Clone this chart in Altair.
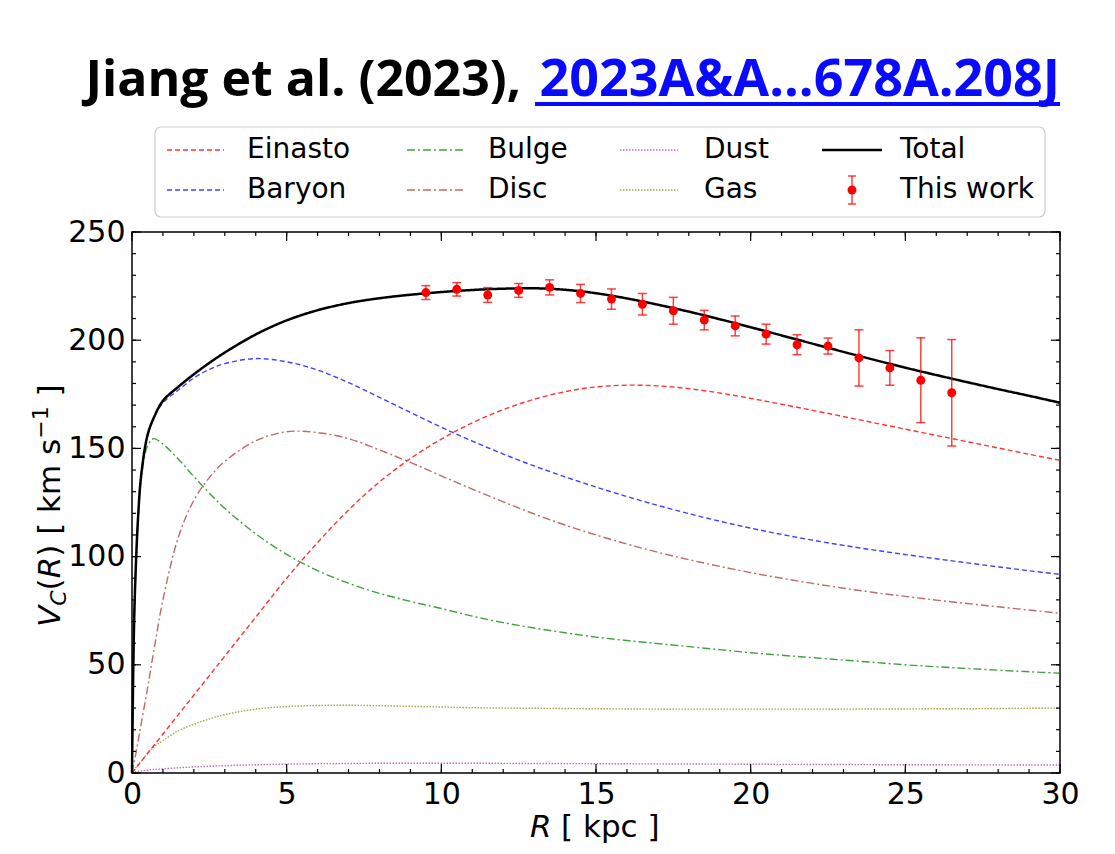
import altair as alt
import pandas as pd

# ---------------- data ----------------
R_GRID = [0, 0.05, 0.1, 0.2, 0.3, 0.5, 0.7, 1, 1.5, 2, 2.5, 3, 4, 5, 6, 7, 8, 9, 10,
          11, 12, 13, 14, 15, 16, 17, 18, 19, 20, 21, 22, 23, 24, 25, 26, 27, 28, 29, 30]

EINASTO = [0, 0.9, 1.8, 3.6, 5.4, 9, 12.6, 18, 27, 36, 45, 54, 72, 90, 106.5, 121.5, 134.5,
           145.3, 154.3, 161.8, 167.9, 172.7, 176.2, 178.4, 179.2, 178.9, 177.6, 175.6, 173.1,
           170.4, 167.6, 164.7, 161.8, 158.9, 156, 153.1, 150.2, 147.3, 144.5]
BARYON = [0, 56, 86, 119, 138, 156, 164, 171, 177, 182.5, 186.5, 189.2, 191.5, 190, 186.2, 180.4,
          173.6, 166.6, 159.8, 153.4, 147.4, 141.9, 136.85, 132.15, 127.75, 123.65, 119.85,
          116.35, 113.15, 110.25, 107.6, 105.2, 103, 100.95, 99.0, 97.1, 95.25, 93.45, 91.8]
BULGE = [0, 55, 85, 118, 136, 151, 154.5, 152, 145, 137, 129.3, 122.3, 110.5, 101, 93.5, 87.7,
         83, 79.3, 76, 72.5, 69.5, 67, 64.8, 62.8, 61.2, 59.8, 58.4, 57, 55.6, 54.4, 53.3, 52.2,
         51.1, 50, 49.1, 48.3, 47.5, 46.8, 46.1]
DISC = [0, 3.5, 7, 15, 23, 39, 56, 80, 109, 126, 136.5, 144, 153.5, 157.7, 157.3, 154.5, 149.3,
        143.5, 137.3, 131.2, 125.3, 119.7, 114.6, 110, 105.8, 102, 98.6, 95.5, 92.6, 90, 87.6,
        85.4, 83.4, 81.6, 79.9, 78.3, 76.8, 75.3, 73.8]
DUST = [0, 0.3, 0.5, 0.8, 1, 1.3, 1.6, 1.9, 2.4, 2.8, 3.1, 3.4, 3.8, 4.1, 4.3, 4.4, 4.5, 4.5,
        4.5, 4.5, 4.45, 4.4, 4.35, 4.3, 4.25, 4.2, 4.15, 4.1, 4.05, 4.0, 3.95, 3.9, 3.85, 3.8,
        3.8, 3.75, 3.75, 3.7, 3.7]
GAS = [0, 1, 2, 4, 5.5, 9, 12, 15, 19.5, 22.5, 25, 27, 29.5, 30.7, 31.2, 31.3, 31.1, 30.8,
       30.5, 30.2, 30, 29.9, 29.8, 29.7, 29.6, 29.5, 29.5, 29.5, 29.5, 29.5, 29.5, 29.5, 29.6,
       29.6, 29.7, 29.7, 29.8, 29.9, 30]
TOTAL = [0, 56, 86, 119, 138, 156, 164, 172, 178.5, 184.25, 189.5, 194.3, 202.65, 209.15,
         213.85, 217.15, 219.4, 221, 222.25, 223.2, 223.8, 224, 223.3, 221.7, 219.3, 216.4,
         213.2, 209.7, 206, 202.2, 198.4, 194.6, 190.9, 187.3, 183.9, 180.6, 177.4, 174.3, 171.1]

R_OBS = [9.5, 10.5, 11.5, 12.5, 13.5, 14.5, 15.5, 16.5, 17.5, 18.5, 19.5, 20.5, 21.5, 22.5,
         23.5, 24.5, 25.5, 26.5]
V_OBS = [222.0, 223.5, 220.9, 223.0, 224.4, 221.6, 219.0, 216.6, 213.6, 209.3, 206.6, 202.8,
         197.9, 197.3, 191.8, 187.2, 181.5, 175.7]
E_OBS = [3.2, 3.1, 3.4, 3.2, 3.5, 4.2, 4.7, 5.0, 6.2, 4.5, 4.6, 4.6, 4.6, 3.7, 13.0, 8.0,
         19.6, 24.6]

X_MAJOR = [0, 5, 10, 15, 20, 25, 30]
X_MINOR = list(range(0, 31))
Y_MAJOR = [0, 50, 100, 150, 200, 250]
Y_MINOR = list(range(0, 251, 10))

SERIES = ["Einasto", "Baryon", "Bulge", "Disc", "Dust", "Gas", "Total"]
SERIES_VALUES = [EINASTO, BARYON, BULGE, DISC, DUST, GAS, TOTAL]

# ---------------- styles / layout ----------------
STYLE = {
    "Einasto": dict(color="#ff0000", dash=[5, 3], width=1.4, opacity=0.8),
    "Baryon": dict(color="#0000ff", dash=[5, 3], width=1.4, opacity=0.75),
    "Bulge": dict(color="#008000", dash=[8, 3, 2, 3], width=1.4, opacity=0.75),
    "Disc": dict(color="#a52a2a", dash=[8, 3, 2, 3], width=1.4, opacity=0.7),
    "Dust": dict(color="#a020a0", dash=[1.5, 1.5], width=1.4, opacity=0.65),
    "Gas": dict(color="#808000", dash=[1.5, 1.5], width=1.4, opacity=0.7),
    "Total": dict(color="#000000", dash=[1, 0], width=2.5, opacity=1.0),
}
W, H = 928, 541
FONT = "DejaVu Sans"

# legend layout in plot-area pixels: (line x0, line x1, text x) per column, row y
COLS = [(35, 92, 115), (275, 332, 356), (488, 546, 572), (690, 750, 768)]
ROWS = [-82, -42]
LEGEND_ORDER = [["Einasto", "Baryon"], ["Bulge", "Disc"], ["Dust", "Gas"], ["Total", "This work"]]

xs = alt.Scale(domain=[0, 30], nice=False, zero=False)
ys = alt.Scale(domain=[0, 250], nice=False, zero=False)
AX = alt.Axis(values=X_MAJOR, labelFontSize=30, labelFont=FONT, labelColor="black",
              ticks=False, tickSize=0, domain=False, grid=False, labelPadding=6,
              labelFlush=False, labelOverlap=False, title=None, format="d")
AY = alt.Axis(values=Y_MAJOR, labelFontSize=30, labelFont=FONT, labelColor="black",
              ticks=False, tickSize=0, domain=False, grid=False, labelPadding=7,
              labelFlush=False, labelOverlap=False, title=None, format="d")


def X(f):
    return alt.X(f, type="quantitative", scale=xs, axis=AX)


def Y(f):
    return alt.Y(f, type="quantitative", scale=ys, axis=AY)


one = pd.DataFrame({"a": [0]})
layers = []

# curves
for name, vals in zip(SERIES, SERIES_VALUES):
    st = STYLE[name]
    df = pd.DataFrame({"R": R_GRID, "V": vals})
    layers.append(
        alt.Chart(df).mark_line(color=st["color"], strokeDash=st["dash"],
                                strokeWidth=st["width"], opacity=st["opacity"],
                                interpolate="catmull-rom")
        .encode(x=X("R"), y=Y("V"))
    )

# observed points with error bars
obs = pd.DataFrame({"R": R_OBS, "V": V_OBS, "E": E_OBS})
obs["lo"] = obs["V"] - obs["E"]
obs["hi"] = obs["V"] + obs["E"]
layers.append(alt.Chart(obs).mark_rule(color="#ff0000", opacity=0.75, strokeWidth=1.5)
              .encode(x=X("R"), y=Y("lo"), y2="hi"))
for f in ["lo", "hi"]:
    layers.append(alt.Chart(obs).mark_tick(color="#ff0000", opacity=0.75, thickness=1.5,
                                           size=9, orient="horizontal")
                  .encode(x=X("R"), y=Y(f)))
layers.append(alt.Chart(obs).mark_circle(color="#ff0000", opacity=1, size=80)
              .encode(x=X("R"), y=Y("V")))


# inward ticks on all four sides
def xticks(vals, length):
    d = pd.DataFrame({"t": vals})
    return [
        alt.Chart(d).mark_rule(color="black", strokeWidth=1.2)
        .encode(x=X("t"), y=alt.value(H), y2=alt.value(H - length)),
        alt.Chart(d).mark_rule(color="black", strokeWidth=1.2)
        .encode(x=X("t"), y=alt.value(0), y2=alt.value(length)),
    ]


def yticks(vals, length):
    d = pd.DataFrame({"t": vals})
    return [
        alt.Chart(d).mark_rule(color="black", strokeWidth=1.2)
        .encode(y=Y("t"), x=alt.value(0), x2=alt.value(length)),
        alt.Chart(d).mark_rule(color="black", strokeWidth=1.2)
        .encode(y=Y("t"), x=alt.value(W), x2=alt.value(W - length)),
    ]


layers += xticks(X_MAJOR, 9) + xticks(X_MINOR, 4) + yticks(Y_MAJOR, 9) + yticks(Y_MINOR, 4)

# axis titles
layers.append(alt.Chart(one).mark_text(text="R", font=FONT, fontSize=31, fontStyle="italic",
                                       align="left", baseline="alphabetic", color="black")
              .encode(x=alt.value(398), y=alt.value(605)))
layers.append(alt.Chart(one).mark_text(text="[ kpc ]", font=FONT, fontSize=31,
                                       align="left", baseline="alphabetic", color="black")
              .encode(x=alt.value(429), y=alt.value(605)))

# y title pieces (rotated): (text, size, italic, shift, advance)
YT = [("V", 31, True, 0, 0.684 * 31),
      ("C", 22, True, 6, 0.698 * 22),
      ("(", 31, False, 0, 0.39 * 31),
      ("R", 31, True, 0, 0.695 * 31),
      (") [ km s", 31, False, 0, 3.808 * 31),
      ("\u22121", 22, False, -12, 1.474 * 22 + 0.318 * 31),
      ("]", 31, False, 0, 0.39 * 31)]
d = 0
for txt, size, ital, shift, adv in YT:
    mk = dict(text=txt, font=FONT, fontSize=size, align="left", baseline="alphabetic",
              color="black", angle=270)
    if ital:
        mk["fontStyle"] = "italic"
    layers.append(alt.Chart(one).mark_text(**mk)
                  .encode(x=alt.value(-72 + shift), y=alt.value(395 - d)))
    d += adv

# title
layers.append(alt.Chart(one).mark_text(text="Jiang et al. (2023),", font="Open Sans",
                                       fontWeight="bold", fontSize=50, align="right",
                                       baseline="alphabetic", color="black")
              .encode(x=alt.value(389), y=alt.value(-136)))
layers.append(alt.Chart(one).mark_text(text="2023A&A...678A.208J", font="Open Sans",
                                       fontWeight="bold", fontSize=52, align="right",
                                       baseline="alphabetic", color="#0a0aff")
              .encode(x=alt.value(928), y=alt.value(-136)))
layers.append(alt.Chart(one).mark_rule(color="#0a0aff", strokeWidth=4)
              .encode(x=alt.value(403), x2=alt.value(928), y=alt.value(-128)))

# legend box
layers.append(alt.Chart(one).mark_rect(fill="white", stroke="#cccccc", strokeWidth=1.2,
                                       cornerRadius=6)
              .encode(x=alt.value(23), x2=alt.value(913), y=alt.value(-105), y2=alt.value(-15)))
for (x0, x1, xt), names in zip(COLS, LEGEND_ORDER):
    for yy, name in zip(ROWS, names):
        if name == "This work":
            xc = (x0 + x1) / 2
            layers.append(alt.Chart(one).mark_rule(color="#ff0000", opacity=0.75, strokeWidth=1.5)
                          .encode(x=alt.value(xc), y=alt.value(yy - 14), y2=alt.value(yy + 14)))
            for yc in (yy - 14, yy + 14):
                layers.append(alt.Chart(one).mark_rule(color="#ff0000", opacity=0.75,
                                                       strokeWidth=1.5)
                              .encode(x=alt.value(xc - 4), x2=alt.value(xc + 4), y=alt.value(yc)))
            layers.append(alt.Chart(one).mark_circle(color="#ff0000", opacity=1, size=80)
                          .encode(x=alt.value(xc), y=alt.value(yy)))
        else:
            st = STYLE[name]
            layers.append(alt.Chart(one).mark_rule(color=st["color"], strokeDash=st["dash"],
                                                   strokeWidth=st["width"],
                                                   opacity=st["opacity"])
                          .encode(x=alt.value(x0), x2=alt.value(x1), y=alt.value(yy)))
        layers.append(alt.Chart(one).mark_text(text=name, font=FONT, fontSize=28, align="left",
                                               baseline="middle", color="black")
                      .encode(x=alt.value(xt), y=alt.value(yy)))

chart = alt.layer(*layers).properties(
    width=W, height=H,
    padding={"left": 124, "top": 224, "right": 40, "bottom": 72},
    autosize=alt.AutoSizeParams(type="none"),
    background="white",
).configure_view(stroke="black", strokeWidth=1.5)

chart.save("out.html", embed_options={"renderer": "svg", "actions": False})
